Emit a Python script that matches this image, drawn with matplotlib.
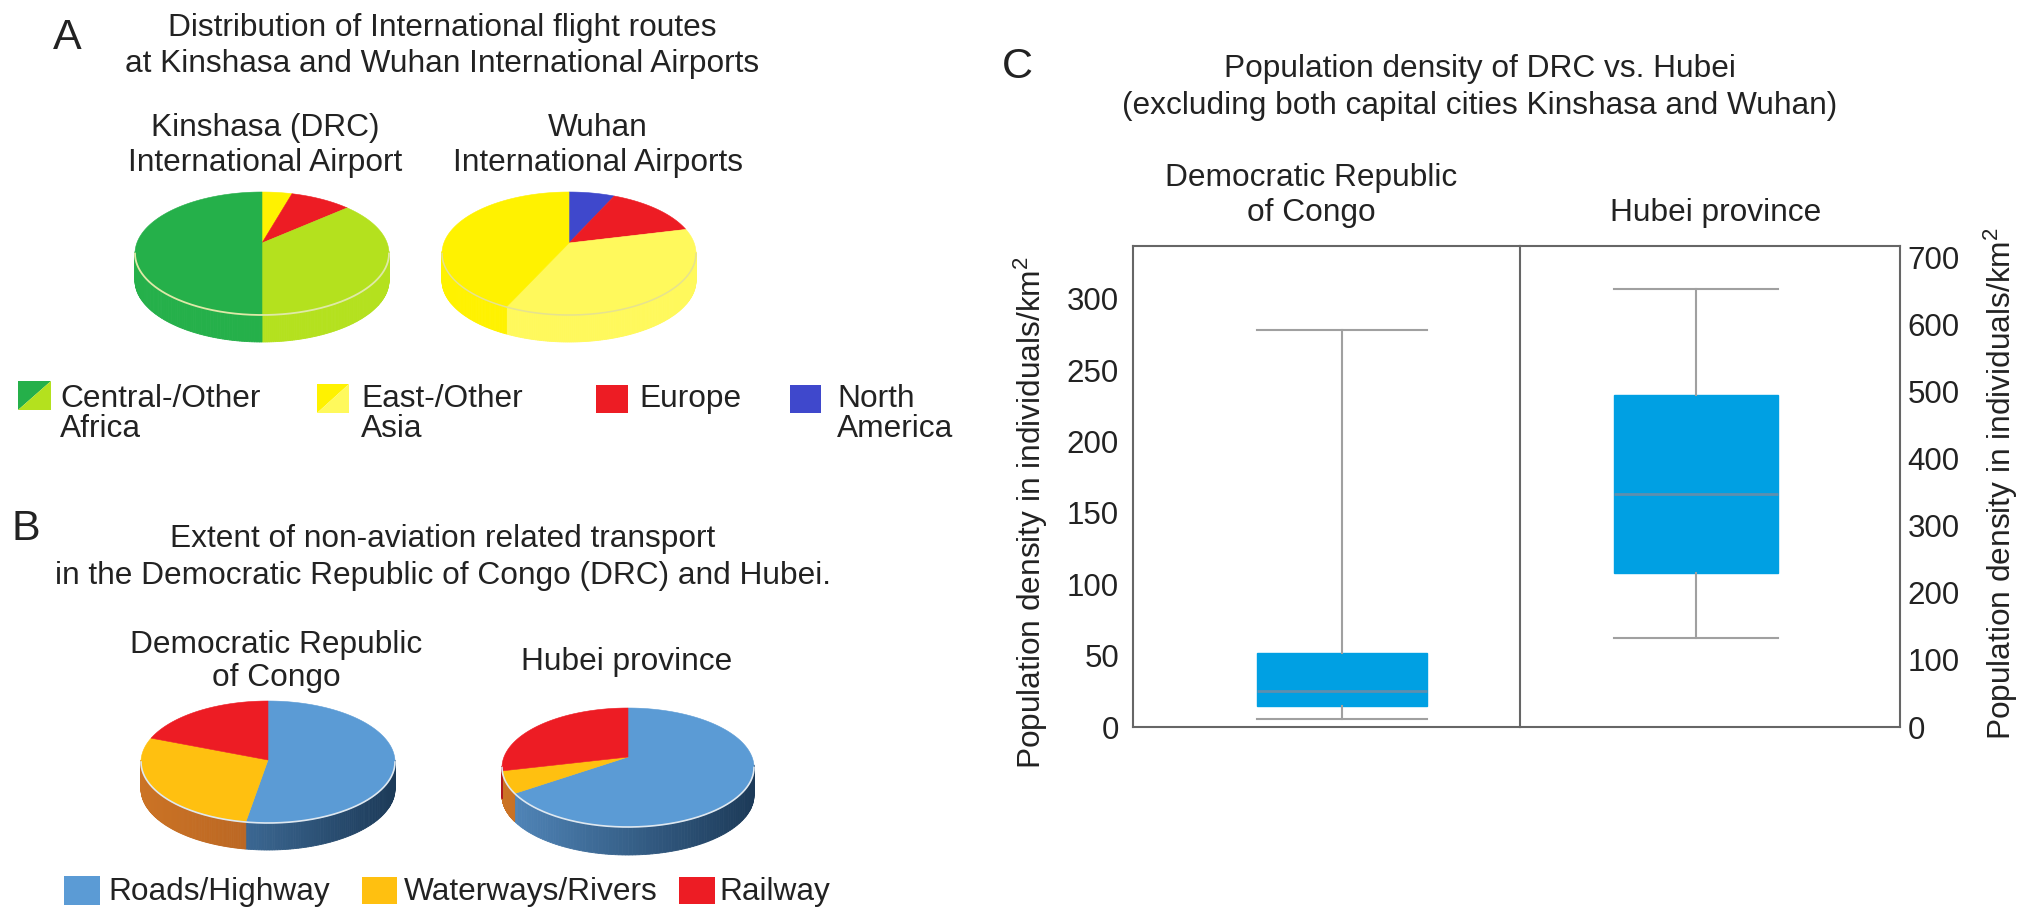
import numpy as np
import matplotlib
matplotlib.use("Agg")
import matplotlib.pyplot as plt
from matplotlib.colors import to_rgb

W, H = 2032, 921

kinshasa_routes = [3.8, 7.9, 38.3, 50.0]   # yellow, Europe, light green, green
wuhan_routes = [5.8, 12.8, 39.6, 41.8]     # N. America, Europe, light yellow, yellow
drc_transport = [52.8, 28.6, 18.6]         # roads, waterways, railway
hubei_transport = [67.8, 6.3, 25.9]

GREEN, LIME = '#25b04a', '#b4e11e'
YELLOW, PALE = '#fff200', '#fff95c'
RED, NAVY = '#ed1c24', '#3f48cc'
ROAD, WATER = '#5b9bd5', '#ffc010'

drc_box = dict(whislo=5.5, q1=15, med=25, q3=52, whishi=278, fliers=[])
hubei_box = dict(whislo=133, q1=229, med=347, q3=495, whishi=653, fliers=[])
left_ticks = [0, 50, 100, 150, 200, 250, 300]
right_ticks = [0, 100, 200, 300, 400, 500, 600, 700]

plt.rcParams['font.family'] = ['Liberation Sans', 'DejaVu Sans']
plt.rcParams['mathtext.default'] = 'regular'
plt.rcParams['text.color'] = '#222222'

fig = plt.figure(figsize=(W / 100, H / 100), dpi=100)

# overlay in pixel coordinates for the labels and legend swatches
ov = fig.add_axes([0, 0, 1, 1], zorder=5)
ov.set_xlim(0, W)
ov.set_ylim(H, 0)
ov.axis('off')


def label(x, y, s, size=22.8, ha='center', **kw):
    ov.text(x, y + 2, s, fontsize=size, ha=ha, va='center', **kw)


def px_axes(left, top, right, bottom, **kw):
    return fig.add_axes([left / W, 1 - bottom / H, (right - left) / W, (bottom - top) / H], **kw)


def mix(a, b, f):
    a, b = np.array(to_rgb(a)), np.array(to_rgb(b))
    return tuple(a + (b - a) * f)


def pie3d(cx, rx, top, face_bottom, bottom, apex_y, values, colors, walls, rim, rim_lw=1.2):
    ry = (face_bottom - top) / 2
    depth = (bottom - face_bottom) / ry
    cy = (top + face_bottom) / 2
    ax = px_axes(cx - rx, top, cx + rx, bottom)
    ax.set_xlim(-1, 1)
    ax.set_ylim(-1 - depth, 1)
    ax.axis('off')
    apex = (cy - apex_y) / ry
    edges = np.cumsum([0] + list(values)) / sum(values) * 2 * np.pi
    for i, col in enumerate(colors):
        t = np.linspace(edges[i], edges[i + 1], 160)
        # side wall, only the front half can be seen
        for a, b in zip(t[:-1], t[1:]):
            if np.cos(a) < 0.02 or np.cos(b) < 0.02:
                xs = [np.sin(a), np.sin(b), np.sin(b), np.sin(a)]
                ys = [np.cos(a), np.cos(b), np.cos(b) - depth, np.cos(a) - depth]
                c = mix(walls[i][0], walls[i][1], (xs[0] + 1) / 2)
                ax.fill(xs, ys, color=c, lw=0.6, clip_on=False)
    for i, col in enumerate(colors):
        t = np.linspace(edges[i], edges[i + 1], 160)
        ax.fill(np.r_[0, np.sin(t)], np.r_[apex, np.cos(t)], color=col, lw=0.4, clip_on=False)
    t = np.linspace(np.pi / 2, 3 * np.pi / 2, 200)
    ax.plot(np.sin(t), np.cos(t), color=rim, lw=rim_lw, clip_on=False)


# panel A
label(67, 36, 'A', size=31)
label(442, 26, 'Distribution of International flight routes')
label(442, 62, 'at Kinshasa and Wuhan International Airports')
label(265, 126, 'Kinshasa (DRC)')
label(265, 161, 'International Airport')
label(598, 126, 'Wuhan')
label(598, 161, 'International Airports')
pie3d(262, 127, 192, 315, 342, 243, kinshasa_routes, [YELLOW, RED, LIME, GREEN],
      [(YELLOW, YELLOW), (RED, RED), (LIME, LIME), (GREEN, GREEN)], '#dfe9a8', 1.3)
pie3d(569, 127, 192, 315, 342, 243, wuhan_routes, [NAVY, RED, PALE, YELLOW],
      [(NAVY, NAVY), (RED, RED), (PALE, PALE), (YELLOW, YELLOW)], '#e6e290', 1.1)

ov.fill([18, 51, 18], [381, 381, 410], color=GREEN, lw=0)
ov.fill([51, 51, 18], [381, 410, 410], color=LIME, lw=0)
ov.fill([317, 349, 317], [384, 384, 413], color=YELLOW, lw=0)
ov.fill([349, 349, 317], [384, 413, 413], color=PALE, lw=0)
ov.fill([596, 628, 628, 596], [385, 385, 413, 413], color=RED, lw=0)
ov.fill([790, 821, 821, 790], [385, 385, 413, 413], color=NAVY, lw=0)
label(60, 397, 'Central-/Other', ha='left')
label(60, 427, 'Africa', ha='left')
label(361, 397, 'East-/Other', ha='left')
label(361, 427, 'Asia', ha='left')
label(639, 397, 'Europe', ha='left')
label(837, 397, 'North', ha='left')
label(837, 427, 'America', ha='left')

# panel B
label(26, 527, 'B', size=31)
label(443, 537, 'Extent of non-aviation related transport')
label(443, 574, 'in the Democratic Republic of Congo (DRC) and Hubei.')
label(276, 643, 'Democratic Republic')
label(276, 676, 'of Congo')
label(627, 660, 'Hubei province')
road_wall = ('#5288bc', '#1c3a58')
water_wall = ('#cb7325', '#a5561f')
rail_wall = ('#b01820', '#8a1218')
pie3d(268, 127, 701, 823, 850, 760, drc_transport, [ROAD, WATER, RED],
      [road_wall, water_wall, rail_wall], '#dfe8f0')
pie3d(628, 126, 708, 827, 855, 757, hubei_transport, [ROAD, WATER, RED],
      [road_wall, water_wall, rail_wall], '#dfe8f0')

ov.fill([64, 100, 100, 64], [876, 876, 905, 905], color=ROAD, lw=0)
ov.fill([362, 397, 397, 362], [877, 877, 904, 904], color=WATER, lw=0)
ov.fill([679, 715, 715, 679], [877, 877, 904, 904], color=RED, lw=0)
label(108, 890, 'Roads/Highway', ha='left')
label(404, 890, 'Waterways/Rivers', ha='left')
label(719, 890, 'Railway', ha='left')

# panel C
label(1017, 65, 'C', size=31)
label(1480, 67, 'Population density of DRC vs. Hubei')
label(1480, 104, '(excluding both capital cities Kinshasa and Wuhan)')
label(1311, 176, 'Democratic Republic')
label(1311, 211, 'of Congo')
label(1716, 211, 'Hubei province')


def box_panel(ax, stats, pos, width, ymin, ymax):
    ax.bxp([stats], positions=[pos], widths=width, patch_artist=True,
           boxprops=dict(facecolor='#00a0e3', edgecolor='#00a0e3', lw=1),
           medianprops=dict(color='#5f8fae', lw=2),
           whiskerprops=dict(color='#a0a0a0', lw=1.5),
           capprops=dict(color='#a0a0a0', lw=1.5),
           capwidths=width, showfliers=False)
    ax.set_xlim(0, 1)
    ax.set_ylim(ymin, ymax)
    ax.set_xticks([])
    for s in ax.spines.values():
        s.set_color('#666666')
        s.set_linewidth(1.5)


ax_l = px_axes(1133, 246, 1520, 727)
box_panel(ax_l, drc_box, 0.54, 0.44, 0, 337)
ax_l.set_yticks(left_ticks)
ax_l.tick_params(axis='y', length=0, pad=10, labelsize=22.5, labelcolor='#222222')
ax_l.spines['right'].set_visible(False)

ax_r = px_axes(1520, 246, 1900, 727)
box_panel(ax_r, hubei_box, 0.463, 0.432, 3.8, 717)
ax_r.yaxis.tick_right()
ax_r.set_yticks(right_ticks)
ax_r.tick_params(axis='y', length=0, pad=5.5, labelsize=22.5, labelcolor='#222222')

label(1031, 511, 'Population density in individuals/km$^2$', rotation=90)
label(2001, 482, 'Population density in individuals/km$^2$', rotation=90)

fig.savefig('out.png', dpi=100)
